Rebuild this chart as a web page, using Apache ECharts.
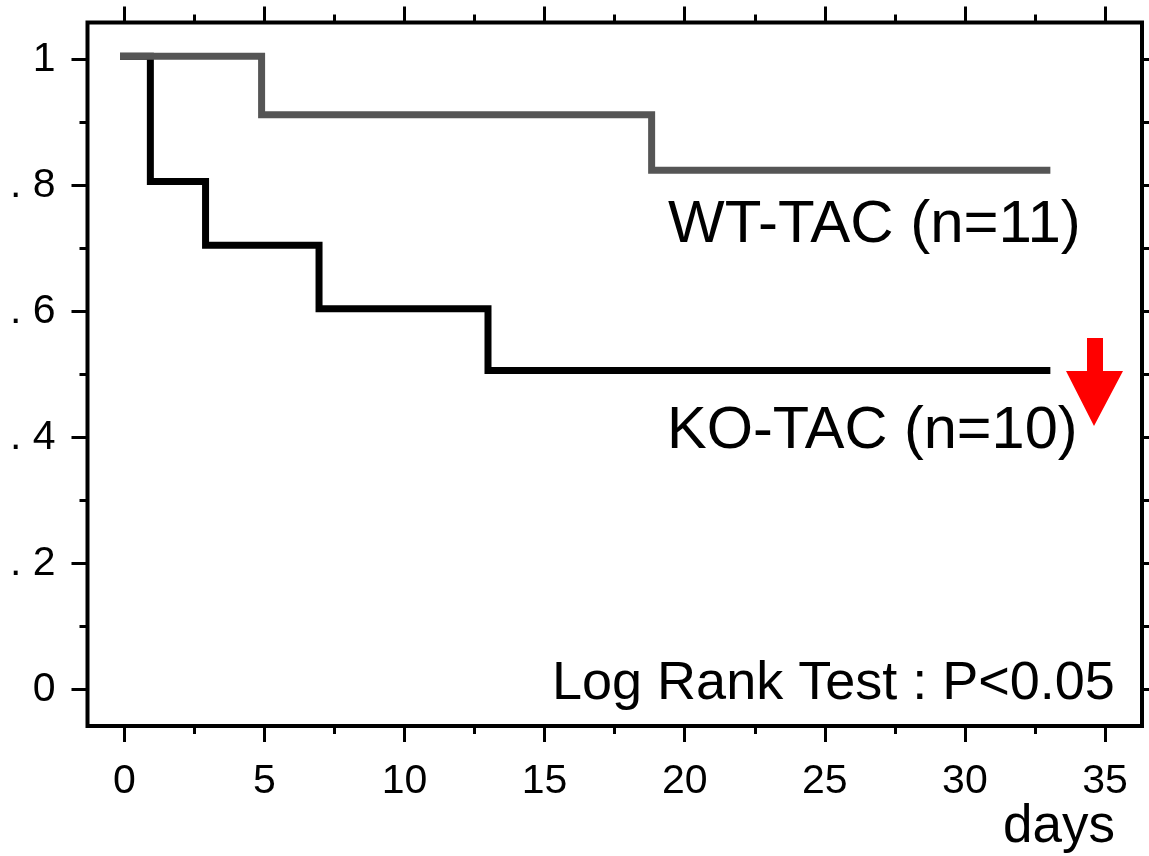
<!DOCTYPE html>
<html>
<head>
<meta charset="utf-8">
<script src="https://cdn.jsdelivr.net/npm/echarts@6/dist/echarts.min.js"></script>
<style>
  html, body { margin: 0; padding: 0; background: #fff; }
  #chart { width: 1149px; height: 856px; }
</style>
</head>
<body>
<div id="chart"></div>
<script>
// Kaplan-Meier steps (days, survival)
const koDays = [-0.25, 0.93, 2.9, 6.95, 12.98, 33.05];
const koSurv = [1.005, 0.806, 0.705, 0.604, 0.506, 0.506];
const wtDays = [-0.25, 4.9, 18.82, 33.05];
const wtSurv = [1.005, 0.912, 0.824, 0.824];

const xTicks = [0, 5, 10, 15, 20, 25, 30, 35];
const yTicks = [0, 0.2, 0.4, 0.6, 0.8, 1];
const yTickLabels = ["0", ". 2", ". 4", ". 6", ". 8", "1"];

const koLabel = "KO-TAC (n=10)";
const wtLabel = "WT-TAC (n=11)";
const testLabel = "Log Rank Test : P<0.05";
const xName = "days";

const FONT = '"Liberation Sans", Arial, Helvetica, sans-serif';

const pairs = (xs, ys) => xs.map((x, i) => [x, ys[i]]);

const chart = echarts.init(document.getElementById("chart"));

const tickAxis = (extra) => Object.assign({
    type: "value",
    gridIndex: 0,
    axisLine: { show: false, onZero: false },
    axisTick: { show: true, inside: false, length: 16, lineStyle: { color: "#000", width: 3 } },
    minorTick: { show: true, splitNumber: 2, length: 8, lineStyle: { color: "#000", width: 3 } },
    splitLine: { show: false },
    axisLabel: { show: false },
}, extra);

chart.setOption({
    animation: false,
    backgroundColor: "#fff",
    grid: [
        // ticks & data live here (0..35, 0..1)
        { left: 124.3, right: 44, top: 59.3, bottom: 166.7, show: false },
        // frame
        { left: 87.5, right: 7, top: 22.5, bottom: 130, show: true, borderColor: "#000", borderWidth: 4, backgroundColor: "transparent" },
    ],
    xAxis: [
        tickAxis({
            position: "bottom", offset: 36.7, min: 0, max: 35, interval: 5,
            axisLabel: {
                show: true, margin: 35, fontSize: 41, fontFamily: FONT, color: "#000",
                formatter: (v) => (xTicks.indexOf(v) >= 0 ? String(v) : ""),
            },
        }),
        tickAxis({ position: "top", offset: 36.8, min: 0, max: 35, interval: 5 }),
        { type: "value", gridIndex: 1, show: false, min: 0, max: 1 },
    ],
    yAxis: [
        tickAxis({
            position: "left", offset: 36.8, min: 0, max: 1, interval: 0.2,
            axisLabel: {
                show: true, margin: 32, fontSize: 41, fontFamily: FONT, color: "#000",
                padding: [9, 0, 0, 0],
                formatter: (v) => {
                    const i = yTicks.findIndex((t) => Math.abs(t - v) < 1e-6);
                    return i >= 0 ? yTickLabels[i] : "";
                },
            },
        }),
        tickAxis({ position: "right", offset: 37, min: 0, max: 1, interval: 0.2 }),
        { type: "value", gridIndex: 1, show: false, min: 0, max: 1 },
    ],
    series: [
        {
            name: koLabel, type: "line", step: "end", xAxisIndex: 0, yAxisIndex: 0,
            data: pairs(koDays, koSurv), showSymbol: false, clip: false,
            lineStyle: { color: "#000", width: 7, cap: "butt", join: "miter" },
        },
        {
            name: wtLabel, type: "line", step: "end", xAxisIndex: 0, yAxisIndex: 0,
            data: pairs(wtDays, wtSurv), showSymbol: false, clip: false,
            lineStyle: { color: "#555555", width: 7, cap: "butt", join: "miter" },
        },
    ],
    graphic: [
        { type: "text", x: 668, y: 225, style: { text: wtLabel, fontSize: 60, fontFamily: FONT, fill: "#000", align: "left", verticalAlign: "middle" } },
        { type: "text", x: 667, y: 432, style: { text: koLabel, fontSize: 59.5, fontFamily: FONT, fill: "#000", align: "left", verticalAlign: "middle" } },
        { type: "text", x: 552, y: 684, style: { text: testLabel, fontSize: 54, fontFamily: FONT, fill: "#000", align: "left", verticalAlign: "middle" } },
        { type: "text", x: 1003, y: 827, style: { text: xName, fontSize: 53, fontFamily: FONT, fill: "#000", align: "left", verticalAlign: "middle" } },
        {
            type: "polygon",
            shape: { points: [[1087, 338], [1103, 338], [1103, 371], [1123, 371], [1094, 426], [1066, 371], [1087, 371]] },
            style: { fill: "#ff0000" },
        },
    ],
});
</script>
</body>
</html>
